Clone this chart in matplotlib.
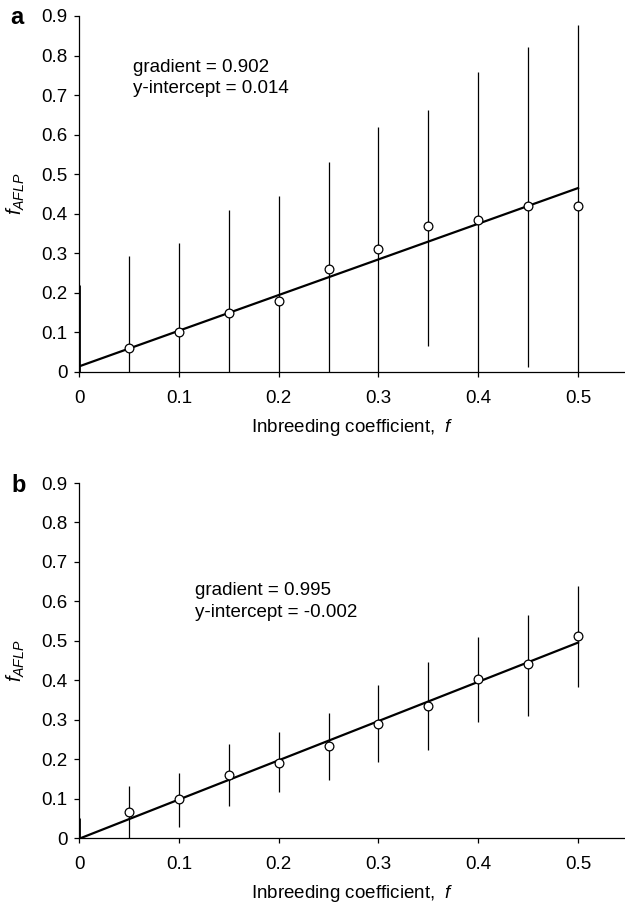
import matplotlib
matplotlib.use("Agg")
import matplotlib.pyplot as plt
import numpy as np

plt.rcParams["font.family"] = ["Liberation Sans", "DejaVu Sans"]
plt.rcParams["mathtext.fontset"] = "custom"
plt.rcParams["mathtext.it"] = "Liberation Sans:italic"
plt.rcParams["mathtext.rm"] = "Liberation Sans"

# inbreeding coefficient
f_vals = [0.05, 0.10, 0.15, 0.20, 0.25, 0.30, 0.35, 0.40, 0.45, 0.50]

# panel a
a_mean = [0.06, 0.10, 0.15, 0.18, 0.26, 0.31, 0.37, 0.385, 0.42, 0.42]
a_low = [0.0, 0.0, 0.0, 0.0, 0.0, 0.0, 0.065, 0.0, 0.012, 0.0]
a_high = [0.292, 0.325, 0.41, 0.445, 0.53, 0.62, 0.663, 0.758, 0.822, 0.876]
a_zero_high = 0.22
a_grad, a_icpt = 0.902, 0.014

# panel b
b_mean = [0.066, 0.098, 0.16, 0.19, 0.233, 0.29, 0.335, 0.403, 0.44, 0.512]
b_low = [0.0, 0.028, 0.08, 0.117, 0.147, 0.193, 0.222, 0.295, 0.31, 0.384]
b_high = [0.131, 0.165, 0.238, 0.268, 0.316, 0.387, 0.445, 0.51, 0.566, 0.64]
b_zero_high = 0.05
b_grad, b_icpt = 0.995, -0.002

FS = 13.5

fig = plt.figure(figsize=(6.25, 9.09), dpi=100)
ax_a = fig.add_axes([0.1264, 0.5908, 0.8736, 0.3916])
ax_b = fig.add_axes([0.1264, 0.0781, 0.8736, 0.3905])


def draw(ax, mean, low, high, zero_high, grad, icpt, txt_x, txt_y):
    ax.vlines(f_vals, low, high, color="black", lw=0.9, zorder=2)
    ax.vlines([0], [0], [zero_high], color="black", lw=2.0, zorder=2)
    xs = np.array([0, 0.5])
    ax.plot(xs, grad * xs + icpt, color="black", lw=1.6, zorder=3)
    ax.plot(f_vals, mean, "o", mfc="white", mec="black", mew=0.9, ms=6.3, zorder=4)
    ax.set_xlim(0, 0.547)
    ax.set_ylim(0, 0.9)
    ax.set_xticks([0, 0.1, 0.2, 0.3, 0.4, 0.5])
    ax.set_xticklabels(["0", "0.1", "0.2", "0.3", "0.4", "0.5"])
    ax.set_yticks(np.arange(0, 0.91, 0.1))
    ax.set_yticklabels(["0"] + ["%.1f" % v for v in np.arange(0.1, 0.91, 0.1)])
    ax.spines["top"].set_visible(False)
    ax.spines["right"].set_visible(False)
    ax.spines["left"].set_linewidth(0.9)
    ax.spines["bottom"].set_linewidth(0.9)
    ax.tick_params(direction="out", length=3.8, width=0.9, labelsize=FS)
    ax.tick_params(axis="x", pad=9.0)
    ax.tick_params(axis="y", pad=4.3)
    ax.set_xlabel("Inbreeding coefficient,  $f$", fontsize=FS, labelpad=7.5)
    ax.set_ylabel("$f_{AFLP}$", fontsize=FS + 1)
    ax.yaxis.set_label_coords(-0.095, 0.5)
    ax.text(txt_x, txt_y[0], "gradient = %.3f" % grad, fontsize=FS, va="baseline", ha="left")
    ax.text(txt_x, txt_y[1], "y-intercept = %.3f" % icpt, fontsize=FS, va="baseline", ha="left")


draw(ax_a, a_mean, a_low, a_high, a_zero_high, a_grad, a_icpt, 0.054, (0.759, 0.706))
draw(ax_b, b_mean, b_low, b_high, b_zero_high, b_grad, b_icpt, 0.116, (0.615, 0.56))

fig.text(10 / 625, 1 - 24 / 909, "a", fontsize=17, fontweight="bold", va="baseline", ha="left")
fig.text(11 / 625, 1 - 492 / 909, "b", fontsize=17, fontweight="bold", va="baseline", ha="left")

fig.savefig("out.png", dpi=100)
